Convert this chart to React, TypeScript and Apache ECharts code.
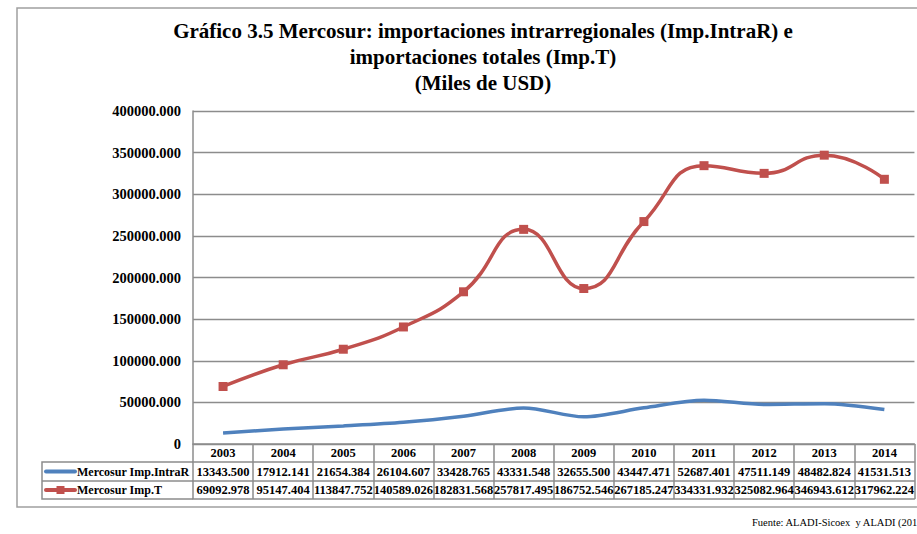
import React, { useEffect, useRef } from "react";
import * as echarts from "echarts";

const years = ["2003", "2004", "2005", "2006", "2007", "2008", "2009", "2010", "2011", "2012", "2013", "2014"];
const intraR = [13343.5, 17912.141, 21654.384, 26104.607, 33428.765, 43331.548, 32655.5, 43447.471, 52687.401, 47511.149, 48482.824, 41531.513];
const impT = [69092.978, 95147.404, 113847.752, 140589.026, 182831.568, 257817.495, 186752.546, 267185.247, 334331.932, 325082.964, 346943.612, 317962.224];
const seriesNames = ["Mercosur Imp.IntraR", "Mercosur Imp.T"];
const titleText = "Gráfico 3.5 Mercosur: importaciones intrarregionales (Imp.IntraR) e\nimportaciones totales (Imp.T)\n(Miles de USD)";
const sourceText = "Fuente: ALADI-Sicoex  y ALADI (201";

const FONT = '"Liberation Serif", "Times New Roman", serif';
const BLUE = "#4F81BD";
const RED = "#C0504D";
const GRID = "#8c8c8c";

export default function App() {
  const ref = useRef<HTMLDivElement>(null);
  useEffect(() => {
    if (!ref.current) return;
    const chart = echarts.init(ref.current, null, { renderer: "svg" });
    const gridLeft = 193;
    const gridRight = 916;
    const gridTop = 111;
    const gridBottomY = 444;
    const row1 = 462;
    const row2 = 481;
    const row3 = 499;

    const tableAxis = (offset: number, len: number, margin: number, fmt: (v: string, i: number) => string, showLabel = true, showTick = true) => ({
      type: "category",
      data: years,
      gridIndex: 0,
      position: "bottom",
      offset,
      boundaryGap: true,
      axisLine: { show: true, lineStyle: { color: GRID, width: 1.5 } },
      axisTick: { show: showTick, length: len, lineStyle: { color: GRID, width: 1.5 } },
      axisLabel: {
        show: showLabel,
        interval: 0,
        margin,
        formatter: fmt,
        fontFamily: FONT,
        fontWeight: "bold",
        fontSize: 12.5,
        lineHeight: 14,
        color: "#000",
      },
      splitLine: { show: false },
    });

    chart.setOption({
      animation: false,
      backgroundColor: "#fff",
      title: {
        text: titleText,
        left: 478,
        top: 13,
        textAlign: "center",
        textStyle: { fontFamily: FONT, fontWeight: "bold", fontSize: 21, lineHeight: 26, color: "#000" },
      },
      grid: { left: gridLeft, right: 917 - gridRight, top: gridTop, bottom: 534 - gridBottomY },
      xAxis: [
        tableAxis(0, row1 - gridBottomY, 2, (v: string) => v),
        tableAxis(row1 - gridBottomY, row2 - row1, 3, (_v: string, i: number) => intraR[i].toFixed(3)),
        tableAxis(row2 - gridBottomY, row3 - row2, 2, (_v: string, i: number) => impT[i].toFixed(3)),
        tableAxis(row3 - gridBottomY, 0, 0, (v: string) => v, false, false),
      ],
      yAxis: {
        type: "value",
        min: 0,
        max: 400000,
        interval: 50000,
        axisLine: { show: true, lineStyle: { color: GRID, width: 1.5 } },
        axisTick: { show: false },
        splitLine: { show: true, lineStyle: { color: GRID, width: 1.3 } },
        axisLabel: {
          margin: 12,
          fontFamily: FONT,
          fontWeight: "bold",
          fontSize: 14.5,
          color: "#000",
          formatter: (v: number) => (v === 0 ? "0" : v.toFixed(3)),
        },
      },
      series: [
        {
          name: seriesNames[0],
          type: "line",
          data: intraR,
          smooth: 0.3,
          showSymbol: false,
          lineStyle: { color: BLUE, width: 3.5 },
          itemStyle: { color: BLUE },
          z: 3,
        },
        {
          name: seriesNames[1],
          type: "line",
          data: impT,
          smooth: 0.5,
          symbol: "rect",
          symbolSize: 9,
          showSymbol: true,
          lineStyle: { color: RED, width: 3.5 },
          itemStyle: { color: RED },
          z: 4,
        },
      ],
      graphic: [
        {
          type: "polyline",
          shape: { points: [[917, 8], [17, 8], [17, 507], [917, 507]] },
          style: { stroke: "#a0a0a0", lineWidth: 1.5, fill: "none" },
          silent: true,
        },
        {
          type: "polyline",
          shape: { points: [[gridLeft, row1], [42, row1], [42, row3], [gridLeft, row3]] },
          style: { stroke: GRID, lineWidth: 1.5, fill: "none" },
          silent: true,
        },
        {
          type: "line",
          shape: { x1: 42, y1: row2, x2: gridLeft, y2: row2 },
          style: { stroke: GRID, lineWidth: 1.5 },
          silent: true,
        },
        {
          type: "line",
          shape: { x1: 46, y1: (row1 + row2) / 2, x2: 75, y2: (row1 + row2) / 2 },
          style: { stroke: BLUE, lineWidth: 4, lineCap: "round" },
          silent: true,
        },
        {
          type: "line",
          shape: { x1: 46, y1: (row2 + row3) / 2, x2: 75, y2: (row2 + row3) / 2 },
          style: { stroke: RED, lineWidth: 4, lineCap: "round" },
          silent: true,
        },
        {
          type: "rect",
          shape: { x: 56.5, y: (row2 + row3) / 2 - 4, width: 8, height: 8 },
          style: { fill: RED },
          silent: true,
        },
        {
          type: "text",
          x: 77,
          y: (row1 + row2) / 2,
          style: { text: seriesNames[0], font: `bold 12px ${FONT}`, fill: "#000", verticalAlign: "middle", align: "left" },
          silent: true,
        },
        {
          type: "text",
          x: 77,
          y: (row2 + row3) / 2,
          style: { text: seriesNames[1], font: `bold 12px ${FONT}`, fill: "#000", verticalAlign: "middle", align: "left" },
          silent: true,
        },
        {
          type: "text",
          x: 752,
          y: 522,
          style: { text: sourceText, font: `10.5px ${FONT}`, fill: "#000", verticalAlign: "middle", align: "left" },
          silent: true,
        },
      ],
    });
    return () => chart.dispose();
  }, []);
  return <div ref={ref} style={{ position: "absolute", left: 0, top: 0, width: 917, height: 534 }} />;
}
